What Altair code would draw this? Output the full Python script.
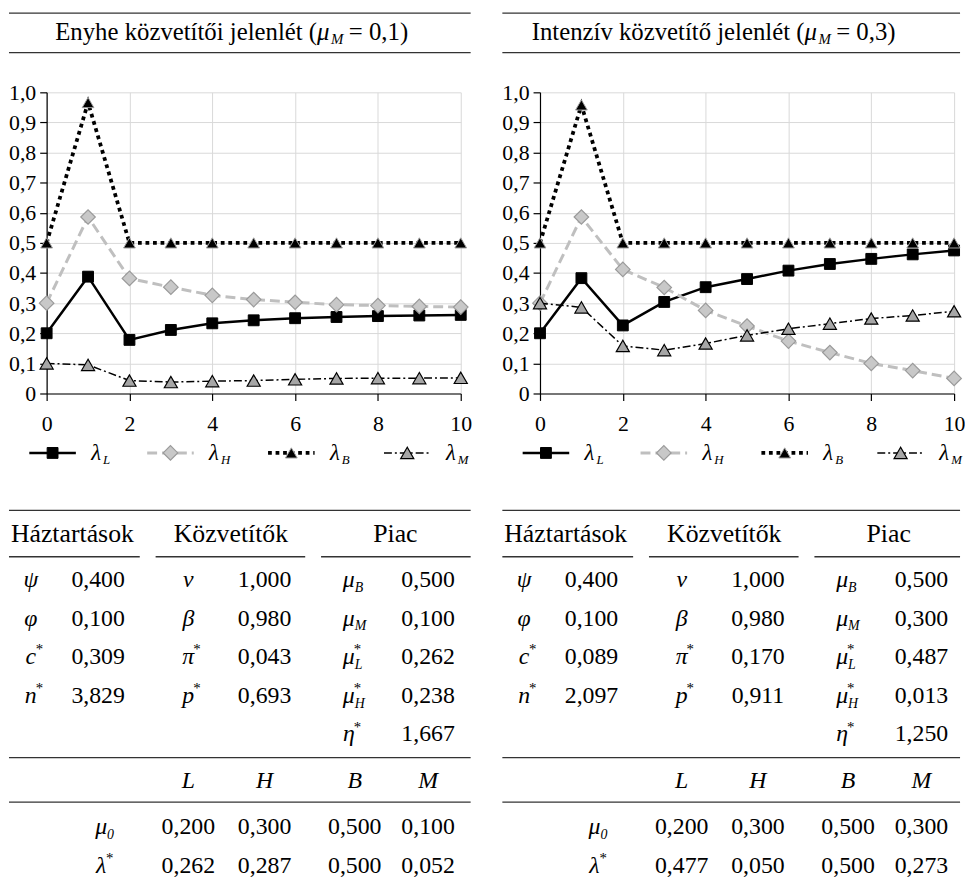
import altair as alt
import pandas as pd

# ------------------------------------------------------------------ data
steps = list(range(11))
series_keys = ["L", "H", "B", "M"]

mild_lambda_L = [0.200, 0.388, 0.178, 0.211, 0.233, 0.243, 0.250, 0.254, 0.257, 0.259, 0.261]
mild_lambda_H = [0.300, 0.586, 0.382, 0.353, 0.326, 0.312, 0.303, 0.295, 0.292, 0.289, 0.287]
mild_lambda_B = [0.500, 0.966, 0.500, 0.500, 0.500, 0.500, 0.500, 0.500, 0.500, 0.500, 0.500]
mild_lambda_M = [0.100, 0.095, 0.043, 0.038, 0.041, 0.043, 0.047, 0.050, 0.051, 0.051, 0.052]

intense_lambda_L = [0.200, 0.383, 0.226, 0.304, 0.353, 0.380, 0.408, 0.430, 0.447, 0.462, 0.475]
intense_lambda_H = [0.300, 0.586, 0.412, 0.352, 0.276, 0.224, 0.174, 0.136, 0.100, 0.076, 0.050]
intense_lambda_B = [0.500, 0.958, 0.500, 0.500, 0.500, 0.500, 0.500, 0.500, 0.500, 0.500, 0.500]
intense_lambda_M = [0.300, 0.286, 0.158, 0.144, 0.166, 0.193, 0.215, 0.232, 0.249, 0.259, 0.273]

panel_title_text = ["Enyhe közvetítői jelenlét (", "Intenzív közvetítő jelenlét ("]
panel_title_symbol = ["μ", "μ"]
panel_title_subscript = ["M", "M"]
panel_title_value = ["= 0,1)", "= 0,3)"]

group_headers = ["Háztartások", "Közvetítők", "Piac"]
household_symbols = ["ψ", "φ", "c", "n"]
household_marks = ["", "", "*", "*"]
intermediary_symbols = ["ν", "β", "π", "p"]
intermediary_marks = ["", "", "*", "*"]
market_symbols = ["μ", "μ", "μ", "μ", "η"]
market_subscripts = ["B", "M", "L", "H", ""]
market_marks = ["", "", "*", "*", "*"]
type_headers = ["L", "H", "B", "M"]
summary_symbols = ["μ", "λ"]
summary_subscripts = ["0", ""]
summary_marks = ["", "*"]

mild_household = [0.400, 0.100, 0.309, 3.829]
mild_intermediary = [1.000, 0.980, 0.043, 0.693]
mild_market = [0.500, 0.100, 0.262, 0.238, 1.667]
mild_mu0 = [0.200, 0.300, 0.500, 0.100]
mild_lambda_star = [0.262, 0.287, 0.500, 0.052]

intense_household = [0.400, 0.100, 0.089, 2.097]
intense_intermediary = [1.000, 0.980, 0.170, 0.911]
intense_market = [0.500, 0.300, 0.487, 0.013, 1.250]
intense_mu0 = [0.200, 0.300, 0.500, 0.300]
intense_lambda_star = [0.477, 0.050, 0.500, 0.273]

panels = [
    dict(lines={"L": mild_lambda_L, "H": mild_lambda_H, "B": mild_lambda_B, "M": mild_lambda_M},
         household=mild_household, intermediary=mild_intermediary, market=mild_market,
         mu0=mild_mu0, lstar=mild_lambda_star),
    dict(lines={"L": intense_lambda_L, "H": intense_lambda_H, "B": intense_lambda_B, "M": intense_lambda_M},
         household=intense_household, intermediary=intense_intermediary, market=intense_market,
         mu0=intense_mu0, lstar=intense_lambda_star),
]

# ------------------------------------------------------------------ styles / layout
FONT = "Liberation Serif"
PLOT_W, PLOT_H = 418, 304
RULE_COLOR = "#333333"

STYLE = {
    "L": dict(color="#000000", width=2.5, dash=None, shape="square", size=120,
              fill="#000000", stroke="#000000", sw=1.0),
    "H": dict(color="#bfbfbf", width=3.0, dash=[10, 5], shape="diamond", size=215,
              fill="#c8c8c8", stroke="#9a9a9a", sw=1.2),
    "B": dict(color="#000000", width=3.8, dash=[3.8, 3.8], shape="triangle-up", size=140,
              fill="#000000", stroke="#a0a0a0", sw=1.0),
    "M": dict(color="#000000", width=1.5, dash=[8, 3, 2, 3], shape="triangle-up", size=175,
              fill="#a6a6a6", stroke="#000000", sw=1.2),
}

SPAN_LEFT = -38
SPAN_RIGHT = [428, 424]
HEAD_H = 69
HEAD_RULES = [0, 40]
HEAD_TEXT_Y = 19.5
TITLE_ANCHOR = [273, 267]

BOTTOM_H = 445
LEGEND_Y = 19
LEGEND_CENTERS = [6, 125, 247, 364]
LEGEND_HALF = 23.5
LEGEND_LABEL_DX = 39

TABLE_TOP = 77
PITCH = 39
SLOT = {"rule_top": 0, "header": 0.6, "rule_sub": 1.2, "rows": [1.8, 2.8, 3.8, 4.8, 5.8],
        "rule_mid": 6.4, "types": 7.0, "rule_low": 7.55, "summary": [8.2, 9.2]}
GROUP_SPANS = [(SPAN_LEFT, 94), (110, 261), (277, None)]
GROUP_CENTERS = [26, 186, 352]
SYMBOL_X = [-16, 143, 305]
VALUE_X = [52, 220, 385]
SUMMARY_LABEL_X = 55
TYPE_X = [143, 220, 311, 385]


def fmt(v):
    return f"{v:.3f}".replace(".", ",")


def row_y(slot):
    return TABLE_TOP + slot * PITCH


def xq(field):
    return alt.X(f"{field}:Q", scale=alt.Scale(domain=[0, PLOT_W], nice=False, zero=False), axis=None)


def yq(h):
    return alt.Y("y:Q", scale=alt.Scale(domain=[0, h], nice=False, zero=False, reverse=True), axis=None)


# ------------------------------------------------------------------ head (title between rules)
def head_chart(i):
    rules = pd.DataFrame({"x0": [SPAN_LEFT] * 2, "x1": [SPAN_RIGHT[i]] * 2, "y": HEAD_RULES})
    txt = pd.DataFrame({"x": [TITLE_ANCHOR[i]], "y": [HEAD_TEXT_Y],
                        "main": [panel_title_text[i]], "sym": [panel_title_symbol[i]],
                        "sub": [panel_title_subscript[i]], "rest": [panel_title_value[i]]})
    y = yq(HEAD_H)
    r = alt.Chart(rules).mark_rule(color=RULE_COLOR, strokeWidth=1.3).encode(
        x=xq("x0"), x2="x1:Q", y=y)
    base = alt.Chart(txt)
    t1 = base.mark_text(font=FONT, fontSize=25, align="right", baseline="middle", color="#000").encode(
        x=xq("x"), y=y, text="main:N")
    t2 = base.mark_text(font=FONT, fontSize=25, fontStyle="italic", align="left", baseline="middle",
                        color="#000").encode(x=xq("x"), y=y, text="sym:N")
    t3 = base.mark_text(font=FONT, fontSize=15, fontStyle="italic", align="left", baseline="middle",
                        dx=14, dy=7, color="#000").encode(x=xq("x"), y=y, text="sub:N")
    t4 = base.mark_text(font=FONT, fontSize=25, align="left", baseline="middle", dx=32,
                        color="#000").encode(x=xq("x"), y=y, text="rest:N")
    return alt.layer(r, t1, t2, t3, t4).properties(width=PLOT_W, height=HEAD_H)


# ------------------------------------------------------------------ line chart
def line_chart(p):
    df = pd.DataFrame([{"step": s, "series": k, "value": v}
                       for k in series_keys for s, v in zip(steps, p["lines"][k])])
    x = alt.X("step:Q", scale=alt.Scale(domain=[0, 10], nice=False),
              axis=alt.Axis(values=[0, 2, 4, 6, 8, 10], title=None, labelPadding=13, labelFlush=False,
                            format="d", grid=True, labelFont=FONT, labelFontSize=22))
    y = alt.Y("value:Q", scale=alt.Scale(domain=[0, 1], nice=False),
              axis=alt.Axis(values=[round(v * 0.1, 1) for v in range(11)], title=None, labelPadding=4,
                            grid=True, labelOverlap=False, labelFont=FONT, labelFontSize=22,
                            labelExpr="datum.value == 0 ? '0' : replace(format(datum.value, '.1f'), '.', ',')"))
    layers = []
    for k in series_keys:
        st = STYLE[k]
        base = alt.Chart(df).transform_filter(alt.datum.series == k)
        lk = dict(color=st["color"], strokeWidth=st["width"])
        if st["dash"]:
            lk["strokeDash"] = st["dash"]
        layers.append(base.mark_line(**lk).encode(x=x, y=y))
        layers.append(base.mark_point(shape=st["shape"], size=st["size"], filled=True, fill=st["fill"],
                                      stroke=st["stroke"], strokeWidth=st["sw"], opacity=1).encode(x=x, y=y))
    return alt.layer(*layers).properties(width=PLOT_W, height=PLOT_H)


# ------------------------------------------------------------------ legend + table
def bottom_chart(i, p):
    y = yq(BOTTOM_H)
    layers = []

    # legend
    for j, k in enumerate(series_keys):
        st = STYLE[k]
        c = LEGEND_CENTERS[j]
        d = pd.DataFrame({"x0": [c - LEGEND_HALF], "x1": [c + LEGEND_HALF], "xc": [c],
                          "xl": [c + LEGEND_LABEL_DX], "y": [LEGEND_Y], "lab": ["λ"], "sub": [k]})
        rk = dict(color=st["color"], strokeWidth=st["width"])
        if st["dash"]:
            rk["strokeDash"] = st["dash"]
        b = alt.Chart(d)
        layers.append(b.mark_rule(**rk).encode(x=xq("x0"), x2="x1:Q", y=y))
        layers.append(b.mark_point(shape=st["shape"], size=st["size"], filled=True, fill=st["fill"],
                                   stroke=st["stroke"], strokeWidth=st["sw"], opacity=1).encode(x=xq("xc"), y=y))
        layers.append(b.mark_text(font=FONT, fontSize=23, fontStyle="italic", align="left",
                                  baseline="middle", color="#000").encode(x=xq("xl"), y=y, text="lab:N"))
        layers.append(b.mark_text(font=FONT, fontSize=13, fontStyle="italic", align="left",
                                  baseline="middle", dx=12, dy=7, color="#000").encode(x=xq("xl"), y=y, text="sub:N"))

    # rules
    right = SPAN_RIGHT[i]
    rule_rows = [dict(x0=SPAN_LEFT, x1=right, y=row_y(SLOT["rule_top"])),
                 dict(x0=SPAN_LEFT, x1=right, y=row_y(SLOT["rule_mid"])),
                 dict(x0=SPAN_LEFT, x1=right, y=row_y(SLOT["rule_low"]))]
    for a, b_ in GROUP_SPANS:
        rule_rows.append(dict(x0=a, x1=(b_ if b_ is not None else right), y=row_y(SLOT["rule_sub"])))
    layers.append(alt.Chart(pd.DataFrame(rule_rows)).mark_rule(color=RULE_COLOR, strokeWidth=1.3).encode(
        x=xq("x0"), x2="x1:Q", y=y))

    # group headers
    hd = pd.DataFrame({"x": GROUP_CENTERS, "y": [row_y(SLOT["header"])] * 3, "t": group_headers})
    layers.append(alt.Chart(hd).mark_text(font=FONT, fontSize=26, baseline="middle", color="#000").encode(
        x=xq("x"), y=y, text="t:N"))

    # symbol cells / value cells
    sym_rows, val_rows = [], []
    groups = [(household_symbols, [""] * 4, household_marks, p["household"]),
              (intermediary_symbols, [""] * 4, intermediary_marks, p["intermediary"]),
              (market_symbols, market_subscripts, market_marks, p["market"])]
    for g, (syms, subs, marks, vals) in enumerate(groups):
        for r, (s, sb, mk, v) in enumerate(zip(syms, subs, marks, vals)):
            yy = row_y(SLOT["rows"][r])
            sym_rows.append(dict(x=SYMBOL_X[g], y=yy, s=s, sub=sb, mark=mk))
            val_rows.append(dict(x=VALUE_X[g], y=yy, t=fmt(v)))
    for r in range(2):
        yy = row_y(SLOT["summary"][r])
        sym_rows.append(dict(x=SUMMARY_LABEL_X, y=yy, s=summary_symbols[r], sub=summary_subscripts[r],
                             mark=summary_marks[r]))
        vals = p["mu0"] if r == 0 else p["lstar"]
        for c, v in enumerate(vals):
            val_rows.append(dict(x=TYPE_X[c], y=yy, t=fmt(v)))
    sym_df = pd.DataFrame(sym_rows)
    sb = alt.Chart(sym_df)
    layers.append(sb.mark_text(font=FONT, fontSize=24, fontStyle="italic", baseline="middle", color="#000").encode(
        x=xq("x"), y=y, text="s:N"))
    layers.append(sb.mark_text(font=FONT, fontSize=14, fontStyle="italic", align="left", baseline="middle",
                               dx=6, dy=8, color="#000").encode(x=xq("x"), y=y, text="sub:N"))
    layers.append(sb.mark_text(font=FONT, fontSize=15, align="left", baseline="middle",
                               dx=5, dy=-8, color="#000").encode(x=xq("x"), y=y, text="mark:N"))
    layers.append(alt.Chart(pd.DataFrame(val_rows)).mark_text(font=FONT, fontSize=24, baseline="middle",
                                                              color="#000").encode(x=xq("x"), y=y, text="t:N"))

    # type headers
    th = pd.DataFrame({"x": TYPE_X, "y": [row_y(SLOT["types"])] * 4, "t": type_headers})
    layers.append(alt.Chart(th).mark_text(font=FONT, fontSize=24, fontStyle="italic", baseline="middle",
                                          color="#000").encode(x=xq("x"), y=y, text="t:N"))

    return alt.layer(*layers).properties(width=PLOT_W, height=BOTTOM_H)


def panel(i):
    p = panels[i]
    return alt.vconcat(head_chart(i), line_chart(p), bottom_chart(i, p), spacing=0)


chart = alt.hconcat(panel(0), panel(1), spacing=30).properties(
    padding={"left": 0, "top": 0, "right": 0, "bottom": 0}
).configure_view(stroke=None).configure_axis(
    labelFont=FONT, labelFontSize=22, labelColor="#000000", domainColor="#000000", tickColor="#000000",
    gridColor="#d9d9d9", gridWidth=1, tickSize=7, domainWidth=1.2, tickWidth=1.2
)

chart.save("out.html", embed_options={"renderer": "svg", "actions": False})
